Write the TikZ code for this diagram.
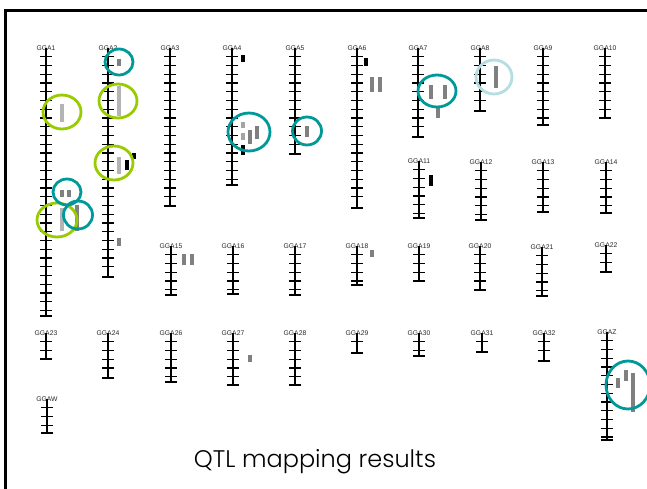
\documentclass[tikz,border=0pt]{standalone}
\usepackage{fontspec}
\setmainfont{Liberation Sans}
\newfontfamily\titlefont{Poppins}[UprightFont=*-Light]
\definecolor{qgreen}{RGB}{153,204,0}
\definecolor{qteal}{RGB}{0,153,153}
\definecolor{qlteal}{RGB}{180,222,226}
\definecolor{qlight}{RGB}{180,180,180}
\definecolor{qdark}{RGB}{128,128,128}
\definecolor{qlabel}{RGB}{40,40,40}
\tikzset{
  chrlabel/.style={font=\fontsize{6.8}{7}\selectfont, text=qlabel, inner sep=0pt},
  axisline/.style={line width=1.9pt, black},
  tickline/.style={line width=1.1pt, black},
  qbar/.style={line width=3.4pt, line cap=butt},
  ring/.style={line width=2.8pt},
}
\newcommand{\chromo}[5]{%
  \node[chrlabel] (#1) at (#2,#3) {#5};
  \draw[axisline] (#2,#3) -- (#2,#4);
  \pgfmathtruncatemacro\ntk{floor((#4-#3-3)/8.75)}
  \foreach \k in {1,...,\ntk} {\draw[tickline] (#2-6,#3+\k*8.75) -- (#2+6,#3+\k*8.75);}
  \draw[tickline] (#2-6,#4) -- (#2+6,#4);
}
\newcommand{\qb}[4]{\draw[qbar,#1] (#2,#3) -- (#2,#4);}
\begin{document}
\begin{tikzpicture}[x=1pt,y=-1pt]
\useasboundingbox (0,0) rectangle (647,488);
\fill[white] (0,0) rectangle (647,488);
\draw[line width=2.7pt] (5.5,500) -- (5.5,10.8) -- (660,10.8);
% row 1
\chromo{g1}{46}{48}{316}{GGA1}
\chromo{g2}{108}{48}{277}{GGA2}
\chromo{g3}{170}{48}{206}{GGA3}
\chromo{g4}{232}{48}{185}{GGA4}
\chromo{g5}{295}{48}{154}{GGA5}
\chromo{g6}{357}{48}{208}{GGA6}
\chromo{g7}{418}{48}{137}{GGA7}
\chromo{g8}{480}{48}{111}{GGA8}
\chromo{g9}{543}{48}{125}{GGA9}
\chromo{g10}{605}{48}{118}{GGA10}
% row 2
\chromo{g11}{419}{161}{218}{GGA11}
\chromo{g12}{481}{162}{220}{GGA12}
\chromo{g13}{543}{162}{212}{GGA13}
\chromo{g14}{606}{162}{213}{GGA14}
% row 3
\chromo{g15}{171}{246}{295}{GGA15}
\chromo{g16}{233}{246}{294}{GGA16}
\chromo{g17}{295}{246}{295}{GGA17}
\chromo{g18}{357}{246}{285}{GGA18}
\chromo{g19}{419}{246}{281}{GGA19}
\chromo{g20}{480}{246}{290}{GGA20}
\chromo{g21}{542}{247}{296}{GGA21}
\chromo{g22}{606}{245}{272}{GGA22}
% row 4
\chromo{g23}{46}{333}{359}{GGA23}
\chromo{g24}{108}{333}{378}{GGA24}
\chromo{g26}{171}{333}{382}{GGA26}
\chromo{g27}{233}{333}{385}{GGA27}
\chromo{g28}{295}{333}{385}{GGA28}
\chromo{g29}{357}{333}{353}{GGA29}
\chromo{g30}{419}{333}{356}{GGA30}
\chromo{g31}{482}{333}{352}{GGA31}
\chromo{g32}{544}{333}{361}{GGA32}
\chromo{gz}{607}{332}{440}{GGAZ}
\chromo{gw}{47}{399}{433}{GGAW}
% QTL bars
\qb{qlight}{62}{104}{122}
\qb{qdark}{119}{59}{66}
\qb{qlight}{119}{86}{116}
\qb{qlight}{119}{157}{174}
\qb{black}{127}{160}{170}
\qb{black}{134}{153}{159}
\qb{qdark}{62}{190}{197}
\qb{qdark}{69}{190}{197}
\qb{qlight}{62}{208}{231}
\qb{qdark}{77}{205}{231}
\qb{qdark}{119}{238}{246}
\qb{qdark}{184}{254}{265}
\qb{qdark}{192}{254}{265}
\qb{black}{243}{55}{62}
\qb{qlight!70!qdark}{243}{122}{128}
\qb{qlight!70!qdark}{243}{133}{140}
\qb{qdark}{250}{130}{144}
\qb{qdark}{257}{126}{139}
\qb{black}{243}{145}{155}
\qb{qdark}{307}{126}{137}
\qb{black}{366}{58}{66}
\qb{qdark}{372}{77}{92}
\qb{qdark}{380}{77}{92}
\qb{qdark}{431}{85}{99}
\qb{qdark}{445}{85}{99}
\qb{qdark}{438}{108}{118}
\qb{qdark}{496}{66}{88}
\qb{black}{431}{175}{186}
\qb{qdark}{372}{250}{257}
\qb{qdark}{250}{355}{362}
\qb{qdark}{618}{378}{388}
\qb{qdark}{626}{370}{381}
\qb{qdark}{633}{373}{412}
% rings
\draw[ring,qgreen] (62,112) ellipse [x radius=19, y radius=17];
\draw[ring,qgreen] (118,101) ellipse [x radius=19, y radius=17];
\draw[ring,qgreen] (114,163) ellipse [x radius=19, y radius=17];
\draw[ring,qgreen] (57,220) ellipse [x radius=20, y radius=17];
\draw[ring,qteal] (119,62) ellipse [x radius=14, y radius=13];
\draw[ring,qteal] (67,192) ellipse [x radius=14, y radius=13];
\draw[ring,qteal] (78,215) ellipse [x radius=14.5, y radius=14];
\draw[ring,qteal] (249,132) ellipse [x radius=21, y radius=19];
\draw[ring,qteal] (307,131) ellipse [x radius=14.5, y radius=14];
\draw[ring,qteal] (437,91) ellipse [x radius=19, y radius=16];
\draw[ring,qteal] (628,385) ellipse [x radius=22, y radius=24];
\draw[ring,qlteal] (494,77) ellipse [x radius=18, y radius=17];
% title
\node[anchor=base, inner sep=0pt, font=\titlefont\fontsize{24}{27}\selectfont] (title) at (315,467) {QTL mapping results};
\end{tikzpicture}
\end{document}
